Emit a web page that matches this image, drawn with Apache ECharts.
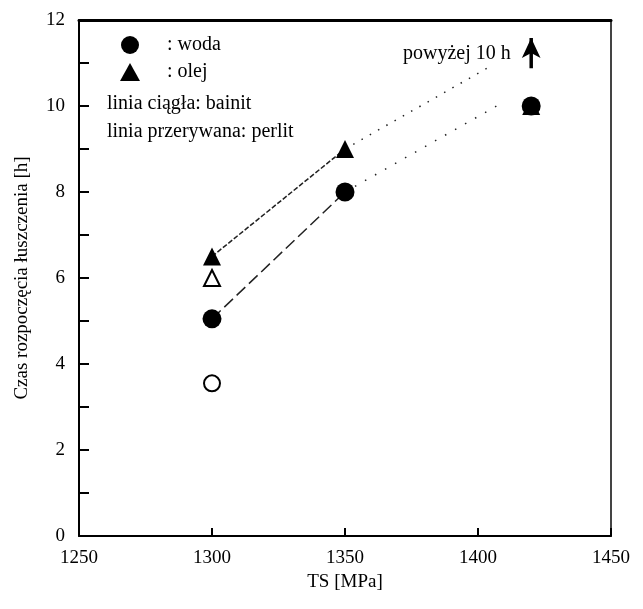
<!DOCTYPE html>
<html>
<head>
<meta charset="utf-8">
<script src="https://cdn.jsdelivr.net/npm/echarts@6/dist/echarts.min.js"></script>
<style>
html,body{margin:0;padding:0;background:#fff;}
#main{width:643px;height:609px;}
</style>
</head>
<body>
<div id="main"></div>
<script>
/*dane*/
var wodaPts = [[1300,5.05],[1350,8.0],[1420,10.0]];      //woda - pełne kółka
var olejPts = [[1300,6.5],[1350,9.0],[1420,10.0]];       //olej - pełne trójkąty
var olejOpen = [[1300,6.0]];                             //pusty trójkąt
var wodaOpen = [[1300,3.55]];                            //puste kółko
var olejLine = [[1300,6.5],[1350,9.0]];
var olejDots = [[1350,9.0],[1404,10.9]];
var wodaLine = [[1300,5.05],[1350,8.0]];
var wodaDots = [[1350,8.0],[1409,10.07]];
var arrowPts = [[1420,10.88],[1420,11.58]];              //strzałka "powyżej 10 h"

var serif = "'Liberation Serif','DejaVu Serif',serif";
var myChart = echarts.init(document.getElementById('main'));

myChart.setOption({
    animation:false,
    backgroundColor:'#fff',
    grid:{left:79,right:32,top:20,bottom:73},
    legend:{
        orient:'vertical',
        left:115, top:30,
        itemWidth:20, itemHeight:18, itemGap:7,
        data:['woda','olej'],
        formatter:function(n){return ': '+n;},
        textStyle:{fontFamily:serif,fontSize:20,lineHeight:18,color:'#000',padding:[0,0,0,22]}
    },
    xAxis:[{
        type:'value', min:1250, max:1450, interval:50,
        name:'TS [MPa]', nameLocation:'middle', nameGap:25,
        nameTextStyle:{fontFamily:serif,fontSize:19,color:'#000'},
        axisLine:{show:true,onZero:false,lineStyle:{color:'#000',width:2}},
        axisTick:{inside:true,length:8,lineStyle:{color:'#000',width:2}},
        axisLabel:{fontFamily:serif,fontSize:19,color:'#000',margin:13,
            formatter:function(v){return String(v);}},
        splitLine:{show:false}
    },{
        type:'value', min:1250, max:1450, position:'top',
        axisLine:{show:true,onZero:false,lineStyle:{color:'#000',width:3}},
        axisTick:{show:false}, axisLabel:{show:false}, splitLine:{show:false}
    }],
    yAxis:[{
        type:'value', min:0, max:12, interval:2,
        name:'Czas rozpoczęcia łuszczenia [h]', nameLocation:'middle', nameGap:47,
        nameTextStyle:{fontFamily:serif,fontSize:19,color:'#000'},
        axisLine:{show:true,onZero:false,lineStyle:{color:'#000',width:2}},
        axisTick:{inside:true,length:10,lineStyle:{color:'#000',width:2}},
        minorTick:{show:true,splitNumber:2,length:10,lineStyle:{color:'#000',width:2}},
        axisLabel:{fontFamily:serif,fontSize:19,color:'#000',margin:14},
        splitLine:{show:false}
    },{
        type:'value', min:0, max:12, position:'right',
        axisLine:{show:true,onZero:false,lineStyle:{color:'#444',width:2}},
        axisTick:{show:false}, axisLabel:{show:false}, splitLine:{show:false}
    }],
    graphic:[
        {type:'text',left:107,top:94,style:{text:'linia ciągła: bainit',font:'20px '+serif,fill:'#000'}},
        {type:'text',left:107,top:122,style:{text:'linia przerywana: perlit',font:'20px '+serif,fill:'#000'}},
        {type:'text',left:403,top:44,style:{text:'powyżej 10 h',font:'20px '+serif,fill:'#000'}}
    ],
    series:[
        {type:'line',data:olejLine,symbol:'none',z:1,lineStyle:{color:'#222',width:1.5,type:[5,2]}},
        {type:'line',data:olejDots,symbol:'none',z:1,lineStyle:{color:'#222',width:1.5,type:[1.5,8]}},
        {type:'line',data:wodaLine,symbol:'none',z:1,lineStyle:{color:'#222',width:1.5,type:[12,5]}},
        {type:'line',data:wodaDots,symbol:'none',z:1,lineStyle:{color:'#222',width:1.5,type:[1.5,10]}},
        {type:'line',z:3,lineStyle:{color:'#000',width:3.5},
            data:[{value:arrowPts[0],symbol:'none'},{value:arrowPts[1],symbol:'arrow',symbolSize:[14,20]}],
            itemStyle:{color:'#000'}},
        {name:'woda',type:'scatter',data:wodaPts,symbol:'circle',symbolSize:19,z:4,itemStyle:{color:'#000',opacity:1}},
        {name:'olej',type:'scatter',data:olejPts,symbol:'triangle',symbolSize:18,z:4,itemStyle:{color:'#000',opacity:1}},
        {type:'scatter',data:olejOpen,symbol:'triangle',symbolSize:16,z:4,itemStyle:{color:'#fff',borderColor:'#000',borderWidth:2,opacity:1}},
        {type:'scatter',data:wodaOpen,symbol:'circle',symbolSize:16,z:4,itemStyle:{color:'#fff',borderColor:'#000',borderWidth:2,opacity:1}}
    ]
});
</script>
</body>
</html>
